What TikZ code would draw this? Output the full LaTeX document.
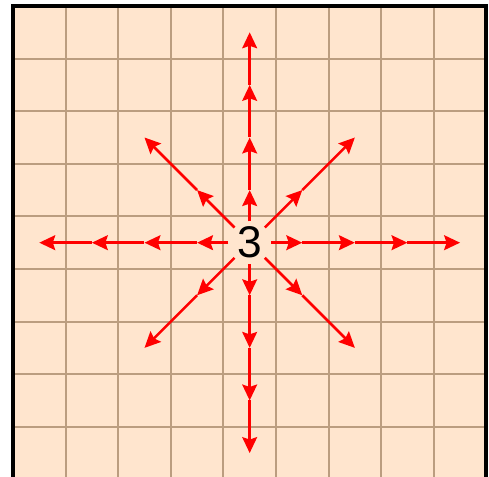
\documentclass[tikz,border=0pt]{standalone}
\usepackage{fontspec}
\setmainfont{Liberation Sans}
\usepackage{xcolor}
\usepackage{tikz}
\usetikzlibrary{arrows.meta}

\definecolor{boardfill}{RGB}{255,229,206}
\definecolor{gridline}{RGB}{187,157,128}

\begin{document}
\begin{tikzpicture}[move/.style={-{Stealth[length=8.6pt,width=8pt,inset=1.3pt]}, red, line width=1.4pt},
                    piece/.style={circle, minimum size=0.8cm, inner sep=0pt, font=\fontsize{24}{24}\selectfont}]
            \useasboundingbox (-0.247,0.046) rectangle (9.05,9.114);
            % Board: 9x9 squares, bottom edge cut off
            \fill[boardfill] (0,0) rectangle (9,9);
            \draw[gridline, line width=1.1pt] (0,0) grid (9,9);
            \draw[line width=2.2pt] (0,0) rectangle (9,9);
            
            % Piece in the middle square
            \node[piece] (three) at (4.5,4.5) {3};
            
            % Target squares (four steps straight, two steps diagonal)
            \foreach \dir/\dx/\dy in {e/1/0, n/0/1, w/-1/0, s/0/-1}
                \foreach \i in {1,...,4}
                    \coordinate (\dir\i) at ([shift={(\i*\dx,\i*\dy)}]three.center);
            \foreach \dir/\dx/\dy in {ne/1/1, nw/-1/1, sw/-1/-1, se/1/-1}
                \foreach \i in {1,2}
                    \coordinate (\dir\i) at ([shift={(\i*\dx,\i*\dy)}]three.center);
            
            % Arrows straight
            \foreach \dir in {e,n,w,s} {
                \draw[move] (three) -- (\dir1);
                \foreach \i/\j in {1/2, 2/3, 3/4}
                    \draw[move] (\dir\i) -- (\dir\j);
            }
            
            % Arrows diagonal
            \foreach \dir in {ne,nw,sw,se} {
                \draw[move] (three) -- (\dir1);
                \draw[move] (\dir1) -- (\dir2);
            }
        \end{tikzpicture}
\end{document}
